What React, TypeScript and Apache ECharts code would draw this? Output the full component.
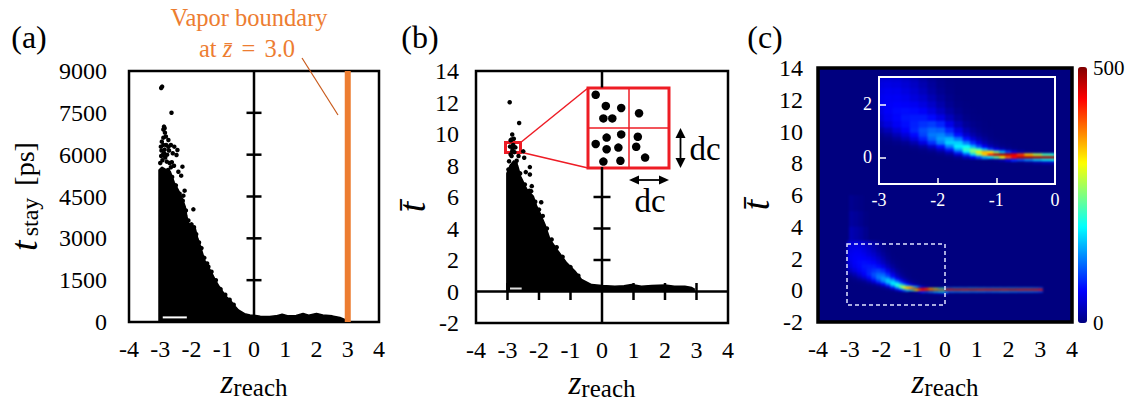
import React, { useEffect, useRef } from "react";
import * as echarts from "echarts";

const SERIF = "'Liberation Serif', 'Times New Roman', serif";

// ---------- panel (a) ----------
const aYTicks = [1500, 3000, 4500, 6000, 7500];
const aBoundary = [[3, 0], [3, 9000]];
const aEnvelope = [
  [-3.04, 0], [-3.04, 5450], [-2.95, 5550], [-2.8, 5450], [-2.68, 5400], [-2.6, 5150], [-2.55, 5000],
  [-2.42, 4730], [-2.3, 4450], [-2.2, 4135], [-2.15, 3800], [-2.1, 3540], [-2.0, 3480], [-1.88, 3360],
  [-1.8, 3000], [-1.74, 2820], [-1.66, 2520], [-1.58, 2220], [-1.46, 1980], [-1.36, 1780], [-1.26, 1560],
  [-1.12, 1280], [-1.0, 1090], [-0.88, 900], [-0.72, 730], [-0.6, 560], [-0.5, 430], [-0.3, 300],
  [-0.13, 250], [0, 240], [0.2, 210], [0.5, 200], [0.7, 220], [0.9, 280], [1.1, 220], [1.35, 235],
  [1.57, 310], [1.75, 240], [2, 310], [2.2, 250], [2.5, 220], [2.75, 160], [2.9, 90], [3.0, 10],
];
const aDots = [
  [-2.94, 8440], [-2.97, 8390], [-2.64, 7504], [-2.88, 7005], [-2.85, 6790], [-2.9, 6610], [-2.74, 6527],
  [-2.95, 6467], [-2.98, 6287], [-2.81, 6347], [-2.66, 6347], [-2.55, 6287], [-2.45, 6168], [-2.48, 5989],
  [-2.92, 5989], [-2.79, 5750], [-2.63, 5726], [-2.29, 5570], [-2.42, 5390], [-2.33, 5247], [-2.22, 4709],
  [-2.26, 4530], [-1.94, 4040], [-1.46, 1984], [-2.86, 6180], [-2.93, 5800], [-2.7, 5700], [-2.86, 6950],
  [-2.9, 6900], [-2.82, 6650], [-2.96, 6150], [-2.88, 6050], [-2.84, 5900], [-3.0, 5700], [-2.72, 6150],
  [-2.78, 6000], [-2.9, 6350], [-2.66, 5550], [-2.56, 5600], [-2.97, 5950], [-2.74, 6280], [-2.6, 6050],
  [-2.75, 5450], [-2.62, 5200], [-2.5, 4900], [-2.38, 4600], [-2.28, 4350], [-2.18, 4000], [-2.1, 3640],
  [-2.0, 3500], [-1.92, 3400], [-1.85, 3150], [-1.76, 2850], [-1.68, 2650], [-1.59, 2300], [-1.5, 2100],
  [-1.36, 1800], [-1.22, 1500], [-1.07, 1180], [-0.92, 980], [-0.78, 800], [-0.65, 620],
];
const aGap = [[-2.92, 165], [-2.15, 165]];

// ---------- panel (b) ----------
const bXTicks = [-3, -2, -1, 1, 2, 3];
const bYTicks = [2, 4, 6];
const bEnvelope = [
  [-3.02, 0], [-3.02, 7.5], [-2.92, 8.0], [-2.8, 8.3], [-2.68, 8.0], [-2.58, 7.3], [-2.39, 6.5], [-2.18, 6.05],
  [-2.07, 5.4], [-1.97, 5.0], [-1.81, 4.25], [-1.65, 3.3], [-1.39, 2.56], [-1.12, 1.82], [-0.86, 1.3],
  [-0.65, 0.76], [-0.33, 0.44], [0, 0.38], [0.41, 0.34], [0.7, 0.36], [0.94, 0.44], [1.25, 0.33],
  [1.58, 0.38], [2.0, 0.41], [2.3, 0.34], [2.63, 0.34], [2.85, 0.25], [2.95, 0.13],
];
const bDots = [
  [-2.93, 12.02], [-2.63, 10.7], [-2.85, 9.97], [-2.87, 9.65], [-2.82, 9.3], [-2.92, 9.2], [-2.75, 9.15],
  [-2.9, 9.6], [-2.8, 9.7], [-2.84, 9.05], [-2.78, 8.85], [-2.9, 8.7], [-2.65, 8.6],
  [-2.5, 8.9], [-2.47, 8.49], [-2.29, 7.9], [-2.42, 7.58], [-2.29, 7.43], [-2.23, 6.69], [-2.25, 6.37],
  [-1.93, 5.67], [-2.71, 8.3], [-2.87, 8.6], [-2.95, 8.27], [-2.74, 8.1], [-2.97, 7.75], [-2.85, 8.9],
  [-2.6, 7.5], [-2.45, 6.8], [-2.3, 6.4], [-2.12, 5.7], [-2.0, 5.2], [-1.88, 4.8], [-1.75, 4.0],
  [-1.6, 3.3], [-1.44, 2.81], [-1.25, 2.2], [-1.0, 1.55], [-0.75, 1.0],
];
const bGap = [[-2.92, 0.19], [-2.55, 0.19]];

// dots inside the red close-up box, cell units
const closeUpDots = [
  [0.19, 1.83], [0.44, 1.55], [0.82, 1.5], [1.26, 1.37], [0.38, 1.24], [0.6, 1.24], [0.19, 0.6], [0.46, 0.76],
  [0.82, 0.84], [1.23, 0.78], [0.46, 0.47], [0.75, 0.51], [1.19, 0.53], [0.38, 0.16], [0.8, 0.18], [1.41, 0.26],
];

// ---------- panel (c) ----------
const heatZ = [-3, -2.85, -2.7, -2.55, -2.4, -2.25, -2.1, -1.95, -1.8, -1.65, -1.5, -1.4, -1.3, -1.2, -1.1, -1, -0.9, -0.8, -0.7, -0.6, -0.45, -0.3, -0.15, 0];
const heatT = [3, 2.75, 2.5, 2.25, 2, 1.75, 1.5, 1.25, 1, 0.85, 0.7, 0.55, 0.4, 0.3, 0.2, 0.1, 0, -0.1, -0.2];
const heatValues = [
  [42, 44, 42, 36, 28, 18, 10, 4, 1, 0, 0, 0, 0, 0, 0, 0, 0, 0, 0, 0, 0, 0, 0, 0],
  [48, 50, 48, 42, 34, 24, 14, 6, 2, 0, 0, 0, 0, 0, 0, 0, 0, 0, 0, 0, 0, 0, 0, 0],
  [52, 55, 54, 48, 40, 30, 18, 9, 3, 0, 0, 0, 0, 0, 0, 0, 0, 0, 0, 0, 0, 0, 0, 0],
  [55, 58, 58, 54, 46, 38, 26, 14, 6, 1, 0, 0, 0, 0, 0, 0, 0, 0, 0, 0, 0, 0, 0, 0],
  [55, 60, 62, 60, 56, 48, 36, 22, 10, 3, 1, 0, 0, 0, 0, 0, 0, 0, 0, 0, 0, 0, 0, 0],
  [50, 60, 66, 68, 66, 60, 48, 32, 17, 7, 2, 1, 0, 0, 0, 0, 0, 0, 0, 0, 0, 0, 0, 0],
  [44, 56, 64, 72, 74, 74, 66, 50, 30, 14, 5, 2, 1, 0, 0, 0, 0, 0, 0, 0, 0, 0, 0, 0],
  [32, 46, 58, 68, 78, 86, 92, 80, 52, 28, 12, 6, 3, 1, 0, 0, 0, 0, 0, 0, 0, 0, 0, 0],
  [15, 28, 44, 60, 80, 100, 112, 108, 80, 48, 24, 12, 6, 2, 1, 0, 0, 0, 0, 0, 0, 0, 0, 0],
  [6, 14, 28, 44, 66, 95, 122, 128, 108, 70, 38, 22, 11, 5, 2, 0, 0, 0, 0, 0, 0, 0, 0, 0],
  [2, 6, 14, 28, 48, 78, 112, 138, 150, 118, 70, 42, 24, 12, 5, 2, 1, 0, 0, 0, 0, 0, 0, 0],
  [0, 2, 5, 10, 24, 48, 85, 125, 165, 165, 125, 82, 48, 25, 12, 6, 2, 1, 0, 0, 0, 0, 0, 0],
  [0, 0, 1, 3, 8, 18, 38, 70, 125, 180, 190, 150, 100, 58, 30, 15, 7, 3, 1, 0, 0, 0, 0, 0],
  [0, 0, 0, 1, 2, 6, 16, 38, 80, 150, 215, 240, 215, 150, 95, 55, 30, 14, 6, 2, 0, 0, 0, 0],
  [0, 0, 0, 0, 0, 2, 5, 14, 36, 95, 175, 250, 320, 345, 310, 250, 160, 90, 45, 20, 6, 2, 0, 0],
  [0, 0, 0, 0, 0, 0, 1, 4, 12, 40, 95, 165, 245, 340, 420, 470, 480, 470, 450, 410, 340, 270, 220, 200],
  [0, 0, 0, 0, 0, 0, 0, 0, 2, 8, 28, 55, 95, 140, 180, 235, 310, 390, 440, 470, 480, 480, 480, 480],
  [0, 0, 0, 0, 0, 0, 0, 0, 0, 0, 0, 0, 0, 0, 3, 8, 20, 45, 80, 100, 130, 160, 180, 190],
  [0, 0, 0, 0, 0, 0, 0, 0, 0, 0, 0, 0, 0, 0, 0, 0, 0, 0, 0, 2, 8, 16, 24, 30],
];
const tailZ = [0.12, 0.37, 0.62, 0.87, 1.12, 1.37, 1.62, 1.87, 2.12, 2.37, 2.62, 2.87, 3.0];
const tailT = [0.14, 0.07, 0, -0.07];
const tailValues = [
  [130, 135, 130, 140, 135, 130, 135, 130, 135, 130, 130, 125, 110],
  [470, 475, 470, 480, 475, 470, 475, 470, 480, 475, 470, 470, 460],
  [470, 480, 475, 480, 470, 475, 480, 475, 480, 470, 475, 470, 460],
  [120, 125, 130, 125, 125, 120, 125, 130, 125, 120, 120, 115, 100],
];
const upperZ = [-2.95, -2.8, -2.65, -2.5];
const upperT = [5.5, 4.5, 3.5];
const upperValues = [
  [8, 5, 3, 0],
  [15, 12, 8, 3],
  [25, 20, 15, 8],
];
const JET = ["#00007f", "#0000ff", "#007fff", "#00ffff", "#7fff7f", "#ffff00", "#ff7f00", "#ff0000", "#7f0000"];

function edges(c: number[]) {
  const e = [c[0] - (c[1] - c[0]) / 2];
  for (let i = 0; i < c.length - 1; i++) e.push((c[i] + c[i + 1]) / 2);
  e.push(c[c.length - 1] + (c[c.length - 1] - c[c.length - 2]) / 2);
  return e;
}
function cells(zs: number[], ts: number[], values: number[][]) {
  const ze = edges(zs);
  const te = edges(ts);
  const out: number[][] = [];
  values.forEach((row, r) =>
    row.forEach((v, c) => {
      if (v > 0) out.push([ze[c], ze[c + 1], te[r], te[r + 1], v]);
    })
  );
  return out;
}
const renderCell = (_p: any, api: any) => {
  const a = api.coord([api.value(0), api.value(2)]);
  const b = api.coord([api.value(1), api.value(3)]);
  return {
    type: "rect",
    shape: { x: a[0], y: a[1], width: b[0] - a[0] + 0.5, height: b[1] - a[1] + 0.5 },
    style: { fill: api.visual("color") },
  };
};

// ---------- helpers ----------
const richName = {
  i: { fontFamily: SERIF, fontStyle: "italic", fontSize: 33, color: "#000" },
  it: { fontFamily: SERIF, fontStyle: "italic", fontSize: 38, color: "#000", padding: [0, 4, 0, 0] },
  tb: { fontFamily: SERIF, fontStyle: "italic", fontSize: 38, color: "#000", padding: [0, 20, 0, 0] },
  s: { fontFamily: SERIF, fontSize: 25, color: "#000", padding: [11, 0, 0, 0] },
  ss: { fontFamily: SERIF, fontSize: 24, color: "#000", padding: [11, 0, 0, 0] },
  n: { fontFamily: SERIF, fontSize: 28, color: "#000", padding: [0, 0, 0, 5] },
};
const xAxisOf = (gridIndex: number) => ({
  gridIndex, type: "value", min: -4, max: 4, interval: 1,
  axisLine: { show: false, onZero: false }, axisTick: { show: false }, splitLine: { show: false },
  axisLabel: { fontFamily: SERIF, fontSize: 24, color: "#000", margin: 15, formatter: (v: number) => String(v) },
  name: "{i|z}{s|reach}", nameLocation: "middle", nameGap: 42,
  nameTextStyle: { rich: richName },
});
const yAxisOf = (gridIndex: number, min: number, max: number, interval: number, name: string, nameGap: number, margin: number) => ({
  gridIndex, type: "value", min, max, interval,
  axisLine: { show: false, onZero: false }, axisTick: { show: false }, splitLine: { show: false },
  axisLabel: { fontFamily: SERIF, fontSize: 24, color: "#000", margin, padding: [5, 0, 0, 0], formatter: (v: number) => String(v) },
  name, nameLocation: "middle", nameGap, nameTextStyle: { rich: richName },
});
const blackLine = (xi: number, data: any[], width = 2.5) => ({
  type: "line", xAxisIndex: xi, yAxisIndex: xi, data, symbol: "none", silent: true, z: 4,
  lineStyle: { color: "#000", width }, connectNulls: false,
});
const tickMarks = (xi: number, data: number[][], size: number[]) => ({
  type: "scatter", xAxisIndex: xi, yAxisIndex: xi, data, symbol: "rect", symbolSize: size, silent: true, z: 4,
  itemStyle: { color: "#000", opacity: 1 },
});
const mass = (xi: number, data: number[][]) => ({
  type: "line", xAxisIndex: xi, yAxisIndex: xi, data, symbol: "none", silent: true, z: 2,
  lineStyle: { color: "#000", width: 1.5 }, areaStyle: { color: "#000", opacity: 1 },
});
const dots = (xi: number, data: number[][], size: number) => ({
  type: "scatter", xAxisIndex: xi, yAxisIndex: xi, data, symbol: "circle", symbolSize: size, silent: true, z: 2,
  itemStyle: { color: "#000", opacity: 1 },
});
const heat = (xi: number, data: number[][]) => ({
  type: "custom", xAxisIndex: xi, yAxisIndex: xi, data, renderItem: renderCell, silent: true, z: 2,
  encode: { x: [0, 1], y: [2, 3] }, clip: true,
});

const panelLabel = (text: string, x: number) => ({
  type: "text", x, y: 37, style: { text, font: `32px ${SERIF}`, fill: "#000", textAlign: "center", textVerticalAlign: "middle" },
});
const arrowHead = (pts: number[][]) => ({ type: "polygon", shape: { points: pts }, style: { fill: "#000" } });

export default function App() {
  const ref = useRef<HTMLDivElement>(null);
  const heatRef = useRef<HTMLDivElement>(null);
  useEffect(() => {
    // the density cells: softened layer underneath the axes of panel (c)
    const heatChart = echarts.init(heatRef.current!, null, { renderer: "svg" });
    const hiddenAxis = (gridIndex: number, min: number, max: number) => ({ gridIndex, type: "value", min, max, show: false });
    heatChart.setOption({
      animation: false,
      grid: [
        { left: 0, top: 0, width: 254, height: 254, outerBoundsMode: "none" },
        { left: 61, top: 9, width: 176, height: 107, outerBoundsMode: "none" },
      ],
      xAxis: [hiddenAxis(0, -4, 4), hiddenAxis(1, -3, 0)],
      yAxis: [hiddenAxis(0, -2, 14), hiddenAxis(1, -1.01, 3.04)],
      visualMap: {
        show: false, type: "continuous", min: 0, max: 500, dimension: 4, inRange: { color: JET },
      },
      series: [
        heat(0, cells(upperZ, upperT, upperValues)),
        heat(0, cells(heatZ, heatT, heatValues)),
        heat(0, cells(tailZ, tailT, tailValues)),
        { ...heat(1, cells(heatZ, heatT, heatValues)), z: 3 },
      ],
    });

    const chart = echarts.init(ref.current!, null, { renderer: "svg" });
    const series: any[] = [
      // (a)
      mass(0, aEnvelope),
      dots(0, aDots, 4.5),
      { ...blackLine(0, aGap, 2), lineStyle: { color: "#fff", width: 2 }, z: 3 },
      blackLine(0, [[0, 0], [0, 9000]]),
      tickMarks(0, aYTicks.map((t) => [0, t]), [15, 2.5]),
      { ...blackLine(0, aBoundary, 6), lineStyle: { color: "#ED7D31", width: 6 } },
      // (b)
      mass(1, bEnvelope),
      dots(1, bDots, 4.5),
      { ...blackLine(1, bGap, 2), lineStyle: { color: "#ddd", width: 2 }, z: 3 },
      blackLine(1, [[0, -2], [0, 7.9], [null, null], [0, 12.95], [0, 14]]),
      blackLine(1, [[-4, 0], [4, 0]]),
      tickMarks(1, bYTicks.map((t) => [0, t]), [17, 2.5]),
      tickMarks(1, bXTicks.map((z) => [z, 0]), [2.5, 17]),
      // close-up box
      { ...dots(3, closeUpDots, 8.5), z: 5 },
    ];
    const option: any = {
      animation: false,
      grid: [
        { left: 129, top: 71, width: 250, height: 251, show: true, borderColor: "#000", borderWidth: 2.5, outerBoundsMode: "none" },
        { left: 476, top: 71, width: 252, height: 252, show: true, borderColor: "#000", borderWidth: 2.5, outerBoundsMode: "none" },
        { left: 818, top: 68, width: 254, height: 254, show: true, borderColor: "#000", borderWidth: 3.5, outerBoundsMode: "none" },
        { left: 588, top: 88, width: 81, height: 80, show: true, borderColor: "#ee1c25", borderWidth: 3, outerBoundsMode: "none" },
        { left: 879, top: 77, width: 176, height: 107, show: true, borderColor: "#fff", borderWidth: 2, outerBoundsMode: "none" },
      ],
      xAxis: [
        xAxisOf(0),
        xAxisOf(1),
        xAxisOf(2),
        { gridIndex: 3, type: "value", min: 0, max: 2, interval: 1, axisLine: { show: false, onZero: false }, axisTick: { show: false }, axisLabel: { show: false }, splitLine: { show: true, lineStyle: { color: "#ee1c25", width: 1.5 } } },
        {
          gridIndex: 4, type: "value", min: -3, max: 0, interval: 1, axisLine: { show: false, onZero: false }, splitLine: { show: false },
          axisTick: { show: true, inside: true, length: 6, lineStyle: { color: "#fff", width: 1.5 } },
          axisLabel: { fontFamily: SERIF, fontSize: 18, color: "#fff", margin: 7, formatter: (v: number) => String(v) },
        },
      ],
      yAxis: [
        yAxisOf(0, 0, 9000, 1500, "{it|t}{ss|stay}{n| [ps]}", 86, 22),
        yAxisOf(1, -2, 14, 2, "{tb|t\u0304}", 42, 17),
        yAxisOf(2, -2, 14, 2, "{tb|t\u0304}", 40, 15),
        { gridIndex: 3, type: "value", min: 0, max: 2, interval: 1, axisLine: { show: false, onZero: false }, axisTick: { show: false }, axisLabel: { show: false }, splitLine: { show: true, lineStyle: { color: "#ee1c25", width: 1.5 } } },
        {
          gridIndex: 4, type: "value", min: -1.01, max: 3.04, axisLine: { show: false, onZero: false }, splitLine: { show: false },
          axisTick: { show: true, inside: true, length: 7, customValues: [0, 2], lineStyle: { color: "#fff", width: 1.5 } },
          axisLabel: { fontFamily: SERIF, fontSize: 18, color: "#fff", margin: 7, customValues: [0, 2] },
        },
      ],
      visualMap: {
        type: "continuous", min: 0, max: 500, seriesIndex: [],
        inRange: { color: JET }, itemWidth: 9, itemHeight: 256, left: 1078, top: 67, padding: 0, calculable: false,
        orient: "vertical", hoverLink: false, borderWidth: 0, showLabel: false,
      },
      series,
      graphic: [
        panelLabel("(a)", 29),
        panelLabel("(b)", 420),
        panelLabel("(c)", 765),
        { type: "text", x: 249, y: 17, style: { text: "Vapor boundary", font: `24.5px ${SERIF}`, fill: "#ED7D31", textAlign: "center", textVerticalAlign: "middle" } },
        {
          type: "text", x: 247, y: 48,
          style: {
            text: "at {i|z\u0304} {e|=} 3.0", font: `24.5px ${SERIF}`, fill: "#ED7D31", textAlign: "center", textVerticalAlign: "middle",
            rich: {
              i: { fontFamily: SERIF, fontStyle: "italic", fontSize: 24.5, fill: "#ED7D31" },
              e: { fontFamily: SERIF, fontSize: 24.5, fill: "#ED7D31", padding: [0, 3, 0, 3] },
            },
          },
        },
        { type: "line", shape: { x1: 302, y1: 58, x2: 338, y2: 115 }, style: { stroke: "#C8591A", lineWidth: 1.2 } },
        // close-up marker and connectors
        { type: "rect", shape: { x: 505.5, y: 142.5, width: 15, height: 10 }, style: { fill: "none", stroke: "#ee1c25", lineWidth: 3 } },
        { type: "line", shape: { x1: 520, y1: 143, x2: 588, y2: 88 }, style: { stroke: "#ee1c25", lineWidth: 1.5 } },
        { type: "line", shape: { x1: 520, y1: 152, x2: 588, y2: 168 }, style: { stroke: "#ee1c25", lineWidth: 1.5 } },
        // dc arrows
        { type: "line", shape: { x1: 680.5, y1: 132, x2: 680.5, y2: 164 }, style: { stroke: "#000", lineWidth: 1.8 } },
        arrowHead([[680.5, 128], [675.5, 138], [685.5, 138]]),
        arrowHead([[680.5, 168], [675.5, 158], [685.5, 158]]),
        { type: "line", shape: { x1: 633, y1: 180, x2: 665, y2: 180 }, style: { stroke: "#000", lineWidth: 1.8 } },
        arrowHead([[629, 180], [639, 175.5], [639, 184.5]]),
        arrowHead([[669, 180], [659, 175.5], [659, 184.5]]),
        { type: "text", x: 705, y: 149, style: { text: "dc", font: `33px ${SERIF}`, fill: "#000", textAlign: "center", textVerticalAlign: "middle" } },
        { type: "text", x: 650, y: 201, style: { text: "dc", font: `33px ${SERIF}`, fill: "#000", textAlign: "center", textVerticalAlign: "middle" } },
        // dashed region of the inset
        { type: "rect", shape: { x: 847, y: 244, width: 98, height: 61 }, style: { fill: "none", stroke: "#dfe3ff", lineWidth: 1.5, lineDash: [4, 3] } },
        // colour bar labels
        { type: "text", x: 1093, y: 68, style: { text: "500", font: `21px ${SERIF}`, fill: "#000", textVerticalAlign: "middle" } },
        { type: "text", x: 1093, y: 323, style: { text: "0", font: `21px ${SERIF}`, fill: "#000", textVerticalAlign: "middle" } },
      ],
    };
    chart.setOption(option);
    return () => {
      chart.dispose();
      heatChart.dispose();
    };
  }, []);
  return (
    <div style={{ position: "fixed", left: 0, top: 0, width: 1141, height: 402, background: "#fff" }}>
      <div style={{ position: "absolute", left: 818, top: 68, width: 254, height: 254, background: "#00007f", overflow: "hidden" }}>
        <div ref={heatRef} style={{ width: 254, height: 254, filter: "blur(1px)" }} />
      </div>
      <div ref={ref} style={{ position: "absolute", left: 0, top: 0, width: 1141, height: 402 }} />
    </div>
  );
}
